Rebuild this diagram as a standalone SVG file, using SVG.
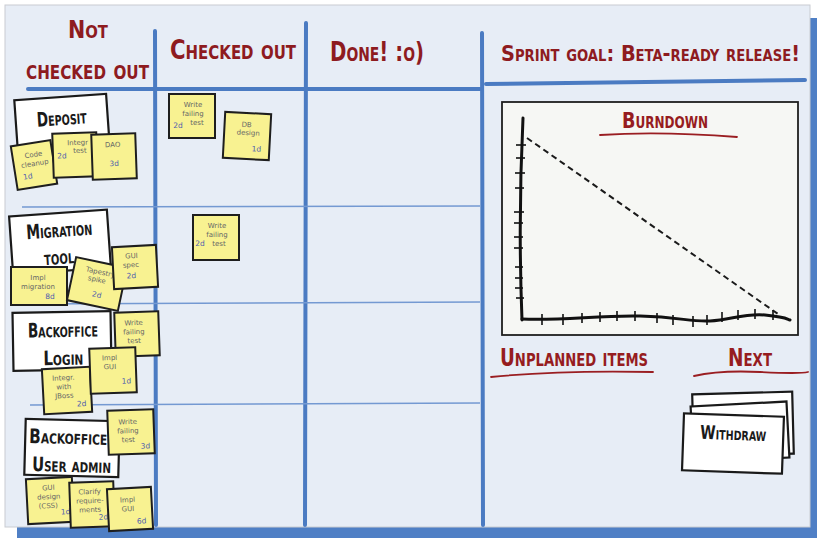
<svg xmlns="http://www.w3.org/2000/svg" width="817" height="538" viewBox="0 0 817 538">
<style>
.hdr{font-family:"DejaVu Sans Condensed","DejaVu Sans",sans-serif;font-weight:bold;font-variant:small-caps;fill:#8e1b1f}
.red{font-family:"DejaVu Sans Condensed","DejaVu Sans",sans-serif;font-weight:bold;font-variant:small-caps;fill:#961c20}
.card rect{fill:#ffffff;stroke:#1a1a1a;stroke-width:2.2}
.card text{font-family:"DejaVu Sans Condensed","DejaVu Sans",sans-serif;font-weight:bold;font-variant:small-caps;fill:#1a1a1a;text-anchor:middle}
.note rect{fill:#f8f291;stroke:#1e1e1e;stroke-width:2}
.note text{font-family:"DejaVu Sans","Liberation Sans",sans-serif;font-size:7px;fill:#666;text-anchor:middle}
.note text.est{fill:#4d5cae;font-size:7.5px}
.thick{stroke:#4b7bc2;stroke-width:4;fill:none;stroke-linecap:round}
.thin{stroke:#7499d2;stroke-width:1.6;fill:none}
.ul{stroke:#9a1e22;stroke-width:1.8;fill:none;stroke-linecap:round}
.axis{stroke:#111;stroke-width:3;fill:none;stroke-linecap:round}
.tick{stroke:#111;stroke-width:1.6}
</style>

<!-- board -->
<g id="board">
  <rect x="17" y="18" width="800" height="520" fill="#4f7fc5"/>
  <rect x="5" y="5" width="805" height="522" fill="#e7edf6" stroke="#c9ccd2" stroke-width="1"/>
</g>

<!-- grid lines -->
<g id="grid">
  <path class="thick" d="M155,31 L156,525"/>
  <path class="thick" d="M306,23 L305,525"/>
  <path class="thick" d="M482,33 L483,525"/>
  <path class="thick" d="M28,89 L480,89"/>
  <path class="thick" d="M486,84 L805,80"/>
  <path class="thin" d="M22,207 L480,206"/>
  <path class="thin" d="M22,304 L480,302"/>
  <path class="thin" d="M30,405 L480,403"/>
</g>

<!-- headers -->
<g id="headers">
  <text class="hdr" x="68" y="38" font-size="25" textLength="40" lengthAdjust="spacingAndGlyphs">Not</text>
  <text class="hdr" x="26" y="79" font-size="28" textLength="123" lengthAdjust="spacingAndGlyphs">checked out</text>
  <text class="hdr" x="170" y="59" font-size="27" textLength="126" lengthAdjust="spacingAndGlyphs">Checked out</text>
  <text class="hdr" x="330" y="61" font-size="27" textLength="94" lengthAdjust="spacingAndGlyphs">Done! :o)</text>
  <text class="hdr" x="501" y="61" font-size="22" textLength="299" lengthAdjust="spacingAndGlyphs">Sprint goal: Beta-ready release!</text>
</g>

<!-- story cards -->
<g id="card-deposit" class="card" transform="translate(62,123) rotate(-4)">
  <rect x="-46" y="-26" width="92" height="52"/>
  <text x="0" y="2" font-size="20" textLength="50" lengthAdjust="spacingAndGlyphs">Deposit</text>
</g>
<g id="card-migration" class="card" transform="translate(60,242) rotate(-4)">
  <rect x="-49" y="-29" width="98" height="58"/>
  <text x="0" y="-5" font-size="20" textLength="66" lengthAdjust="spacingAndGlyphs">Migration</text>
  <text x="-2" y="22" font-size="20" textLength="30" lengthAdjust="spacingAndGlyphs">tool</text>
</g>
<g id="card-login" class="card" transform="translate(62,341) rotate(-1)">
  <rect x="-49" y="-29" width="98" height="58"/>
  <text x="1" y="-4" font-size="20" textLength="70" lengthAdjust="spacingAndGlyphs">Backoffice</text>
  <text x="1" y="24" font-size="20" textLength="40" lengthAdjust="spacingAndGlyphs">Login</text>
</g>
<g id="card-useradmin" class="card" transform="translate(72,448) rotate(1.5)">
  <rect x="-47" y="-28" width="94" height="56"/>
  <text x="-4" y="-4" font-size="20" textLength="78" lengthAdjust="spacingAndGlyphs">Backoffice</text>
  <text x="0" y="24" font-size="20" textLength="79" lengthAdjust="spacingAndGlyphs">User admin</text>
</g>

<!-- sticky notes: Deposit -->
<g id="note-code-cleanup" class="note" transform="translate(34,165) rotate(-9)">
  <rect x="-20" y="-22" width="40" height="44"/>
  <text x="1" y="-8">Code</text><text x="1" y="1">cleanup</text><text class="est" x="-8" y="13">1d</text>
</g>
<g id="note-integr-test" class="note" transform="translate(75,155) rotate(-2)">
  <rect x="-22" y="-22" width="44" height="44"/>
  <text x="3" y="-10">Integr</text><text x="5" y="-2">test</text><text class="est" x="-13" y="3">2d</text>
</g>
<g id="note-dao" class="note" transform="translate(114,156) rotate(-2)">
  <rect x="-22" y="-22" width="44" height="45"/>
  <text x="-1" y="-9">DAO</text><text class="est" x="0" y="10">3d</text>
</g>

<!-- Migration tool -->
<g id="note-impl-migration" class="note" transform="translate(39,286) rotate(0)">
  <rect x="-28" y="-19" width="56" height="38"/>
  <text x="-1" y="-6">Impl</text><text x="-1" y="3">migration</text><text class="est" x="11" y="13">8d</text>
</g>
<g id="note-tapestry" class="note" transform="translate(97,284) rotate(12)">
  <rect x="-26" y="-22" width="52" height="44"/>
  <text x="1" y="-10">Tapestry</text><text x="-1" y="-2">spike</text><text class="est" x="2" y="13">2d</text>
</g>
<g id="note-gui-spec" class="note" transform="translate(135,267) rotate(-3)">
  <rect x="-22" y="-21" width="44" height="42"/>
  <text x="-3" y="-9">GUI</text><text x="-4" y="0">spec</text><text class="est" x="-4" y="11">2d</text>
</g>

<!-- Backoffice login -->
<g id="note-write-test-login" class="note" transform="translate(137,334) rotate(-2)">
  <rect x="-22" y="-22" width="44" height="44"/>
  <text x="-3" y="-9">Write</text><text x="-3" y="0">failing</text><text x="-3" y="9">test</text>
</g>
<g id="note-integr-jboss" class="note" transform="translate(67,390) rotate(-3)">
  <rect x="-24" y="-22" width="48" height="45"/>
  <text x="-3" y="-10">Integr.</text><text x="-3" y="-1">with</text><text x="-3" y="8">JBoss</text><text class="est" x="14" y="17">2d</text>
</g>
<g id="note-impl-gui-login" class="note" transform="translate(113,370) rotate(-2)">
  <rect x="-23" y="-22" width="46" height="45"/>
  <text x="-3" y="-10">Impl</text><text x="-3" y="-1">GUI</text><text class="est" x="13" y="14">1d</text>
</g>

<!-- Backoffice user admin -->
<g id="note-write-test-admin" class="note" transform="translate(131,432) rotate(-2)">
  <rect x="-23" y="-22" width="46" height="44"/>
  <text x="-3" y="-8">Write</text><text x="-3" y="1">failing</text><text x="-3" y="10">test</text><text class="est" x="14" y="17">3d</text>
</g>
<g id="note-gui-design" class="note" transform="translate(50,500) rotate(-3)">
  <rect x="-23" y="-22" width="46" height="45"/>
  <text x="-1" y="-10">GUI</text><text x="-1" y="-1">design</text><text x="-2" y="8">(CSS)</text><text class="est" x="15" y="15">1d</text>
</g>
<g id="note-clarify" class="note" transform="translate(92,504) rotate(-2)">
  <rect x="-22" y="-22" width="44" height="45"/>
  <text x="-2" y="-10">Clarify</text><text x="-2" y="-1">require-</text><text x="-2" y="8">ments</text><text class="est" x="11" y="16">2d</text>
</g>
<g id="note-impl-gui-admin" class="note" transform="translate(130,509) rotate(-3)">
  <rect x="-22" y="-21" width="44" height="42"/>
  <text x="-2" y="-7">Impl</text><text x="-2" y="2">GUI</text><text class="est" x="11" y="15">6d</text>
</g>

<!-- checked out -->
<g id="note-co-write-test-1" class="note" transform="translate(192,116)">
  <rect x="-23" y="-22" width="46" height="44"/>
  <text x="1" y="-9">Write</text><text x="1" y="0">failing</text><text x="5" y="9">test</text><text class="est" x="-14" y="12">2d</text>
</g>
<g id="note-co-db-design" class="note" transform="translate(247,136) rotate(3)">
  <rect x="-23" y="-23" width="46" height="46"/>
  <text x="-1" y="-9">DB</text><text x="1" y="-1">design</text><text class="est" x="10" y="15">1d</text>
</g>
<g id="note-co-write-test-2" class="note" transform="translate(216,237)">
  <rect x="-23" y="-22" width="46" height="45"/>
  <text x="1" y="-9">Write</text><text x="1" y="0">failing</text><text x="3" y="9">test</text><text class="est" x="-16" y="9">2d</text>
</g>

<!-- burndown -->
<g id="burndown">
  <rect x="502" y="102" width="296" height="233" fill="#f6f7f4" stroke="#1e1e1e" stroke-width="1.8"/>
  <text class="red" x="622" y="128" font-size="22" textLength="86" lengthAdjust="spacingAndGlyphs">Burndown</text>
  <path class="ul" d="M600,135 Q660,131 737,137"/>
  <path class="axis" d="M523,118 Q518,220 522,320"/>
  <path class="axis" d="M522,319 C560,321 600,315 640,316 S690,322 710,321 S745,313 765,315 S785,318 790,320"/>
  <g class="tick">
    <line x1="516" y1="145" x2="526" y2="145"/><line x1="516" y1="158" x2="525" y2="158"/>
    <line x1="515" y1="173" x2="525" y2="173"/><line x1="515" y1="188" x2="524" y2="188"/>
    <line x1="514" y1="212" x2="524" y2="212"/><line x1="514" y1="223" x2="523" y2="223"/>
    <line x1="514" y1="237" x2="523" y2="237"/><line x1="514" y1="248" x2="523" y2="248"/>
    <line x1="515" y1="267" x2="523" y2="267"/><line x1="515" y1="278" x2="523" y2="278"/>
    <line x1="515" y1="288" x2="523" y2="288"/><line x1="516" y1="298" x2="524" y2="298"/>
    <line x1="542" y1="314" x2="542" y2="325"/><line x1="563" y1="314" x2="563" y2="325"/>
    <line x1="582" y1="313" x2="582" y2="323"/><line x1="600" y1="312" x2="600" y2="322"/>
    <line x1="617" y1="311" x2="617" y2="321"/><line x1="635" y1="311" x2="635" y2="321"/>
    <line x1="657" y1="313" x2="657" y2="323"/><line x1="673" y1="315" x2="673" y2="325"/>
    <line x1="693" y1="316" x2="693" y2="327"/><line x1="707" y1="315" x2="707" y2="325"/>
    <line x1="722" y1="312" x2="722" y2="322"/><line x1="738" y1="310" x2="738" y2="320"/>
    <line x1="755" y1="309" x2="755" y2="319"/><line x1="773" y1="310" x2="773" y2="320"/>
  </g>
  <path d="M527,138 L778,314" stroke="#1a1a1a" stroke-width="2" stroke-dasharray="6,4" fill="none"/>
</g>

<!-- unplanned / next -->
<g id="unplanned">
  <text class="red" x="500" y="366" font-size="25" textLength="148" lengthAdjust="spacingAndGlyphs">Unplanned items</text>
  <path class="ul" d="M491,377 Q560,370 653,372"/>
</g>
<g id="next">
  <text class="red" x="728" y="366" font-size="25" textLength="44" lengthAdjust="spacingAndGlyphs">Next</text>
  <path class="ul" d="M694,376 Q720,370 760,372 T808,372"/>
</g>
<g id="card-next-back1" class="card" transform="translate(743,424) rotate(-1.5)">
  <rect x="-50" y="-31" width="100" height="62"/>
</g>
<g id="card-next-back2" class="card" transform="translate(740,432) rotate(-3)">
  <rect x="-48" y="-28" width="96" height="56"/>
</g>
<g id="card-withdraw" class="card" transform="translate(733,443) rotate(2)">
  <rect x="-50" y="-28" width="100" height="57"/>
  <text x="0" y="-3" font-size="19" textLength="66" lengthAdjust="spacingAndGlyphs">Withdraw</text>
</g>
</svg>
